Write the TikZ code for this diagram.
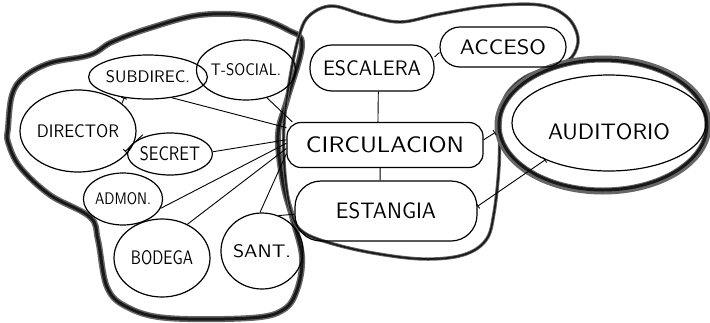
\documentclass[tikz,border=0pt]{standalone}
\usepackage{graphicx}
\usetikzlibrary{shapes.geometric,arrows.meta}
\newcommand{\lab}[3]{\resizebox{#1pt}{#2pt}{\sffamily #3}}
\tikzset{tk/.tip={Bar[width=6pt,line width=0.9pt]}}
\begin{document}
\begin{tikzpicture}[x=1pt,y=-1pt,
  room/.style={ellipse,draw,line width=1.2pt,inner sep=0pt},
  stad/.style={rectangle,draw,line width=1.2pt,inner sep=0pt},
  link/.style={line width=0.9pt},
  blobwide/.style={line width=6pt,black!60,line join=round},
  blobcore/.style={line width=3pt,black!90,line join=round},
  midwide/.style={line width=3.4pt,black!60,line join=round},
  midcore/.style={line width=1.6pt,black!90,line join=round}]
\useasboundingbox (0,0) rectangle (710,322);

% left zone (thick sketched outline)
\foreach \s in {blobwide,blobcore}{
\draw[\s] plot[smooth cycle,tension=0.6] coordinates {
 (8,128) (12,95) (24,77) (50,63) (90,55) (112,42) (150,28) (200,15) (250,16)
 (288,30) (302,45) (287,100) (278,135) (283,183) (293,220) (302,257) (297,290)
 (283,310) (250,318) (167,318) (127,307) (107,287) (98,240) (90,217) (50,195)
 (20,167) (8,142)};}

% middle zone
\foreach \s in {midwide,midcore}{
\draw[\s] plot[smooth cycle,tension=0.6] coordinates {
 (300,33) (310,15) (332,6) (365,15) (400,22) (440,14) (490,6) (540,5) (567,17)
 (578,38) (572,57) (555,66) (525,77) (505,97) (500,125) (499,167) (494,213)
 (486,240) (463,255) (423,259) (373,253) (330,243) (303,232) (292,215)
 (285,175) (284,125) (291,72)};}

% auditorium outer thick ring
\node[ellipse,draw=black!60,line width=7pt,minimum width=210pt,minimum height=132pt,inner sep=0pt] (audo) at (603,125) {};
\node[ellipse,draw=black!90,line width=3pt,minimum width=208pt,minimum height=130pt,inner sep=0pt] (audr) at (603,125) {};

% rooms
\node[room,minimum width=96pt,minimum height=44pt] (sub) at (148,77) {\lab{84}{12}{SUBDIREC.}};
\node[room,minimum width=90pt,minimum height=60pt] (tsoc) at (246,70) {\lab{70}{12}{T-SOCIAL.}};
\node[room,minimum width=110pt,minimum height=82pt] (dir) at (78,131) {\lab{82}{13}{DIRECTOR}};
\node[room,minimum width=74pt,minimum height=42pt] (sec) at (170,154) {\lab{60}{14}{SECRET}};
\node[room,minimum width=66pt,minimum height=52pt] (adm) at (123,199) {\lab{56}{12}{ADMON.}};
\node[room,minimum width=96pt,minimum height=78pt] (bod) at (162,258) {\lab{62}{14}{BODEGA}};
\node[room,minimum width=66pt,minimum height=76pt] (sant) at (262,251) {\lab{58}{13}{SANT.}};
\node[stad,rounded corners=20pt,minimum width=126pt,minimum height=40pt] (acc) at (503,47) {\lab{86}{15}{ACCESO}};
\node[stad,rounded corners=22pt,minimum width=124pt,minimum height=46pt] (esc) at (372,68) {\lab{98}{15}{ESCALERA}};
\node[stad,rounded corners=14pt,minimum width=196pt,minimum height=45pt] (circ) at (385,145) {\lab{158}{16}{CIRCULACION}};
\node[stad,rounded corners=26pt,minimum width=182pt,minimum height=60pt] (est) at (386,211) {\lab{100}{16}{ESTANGIA}};
\node[room,minimum width=194pt,minimum height=96pt,
  label={[yshift=-9pt]center:{\lab{122}{16}{AUDITORIO}}}] (aud) at (609,123) {};

% connectors
\draw[link] (sub.-41) -- (circ.170);
\draw[link] (tsoc.-53) -- (circ.166);
\draw[link] (sec.3) -- (circ.177);
\draw[link] (adm.-14) -- (circ.179);
\draw[link] (bod.53) -- (circ.182);
\draw[link] (sant.93) -- (circ.185);
\draw[link,{tk}-] (sub.-139) -- (dir.32);
\draw[link,-{tk},shorten <=-12pt,shorten >=-5pt] (dir.-12) -- (sec.172);
\draw[link] (acc.185) -- (esc.10);
\draw[link] (esc.-75) -- (circ.107);
\draw[link] (circ.-102) -- (est.101);
\draw[link,-{tk}] (circ.3) -- (audo.184);
\draw[link,{tk}-{tk}] (aud.210) -- (est.3);
\draw[link] (sant.65) -- (est.182);
\end{tikzpicture}
\end{document}
